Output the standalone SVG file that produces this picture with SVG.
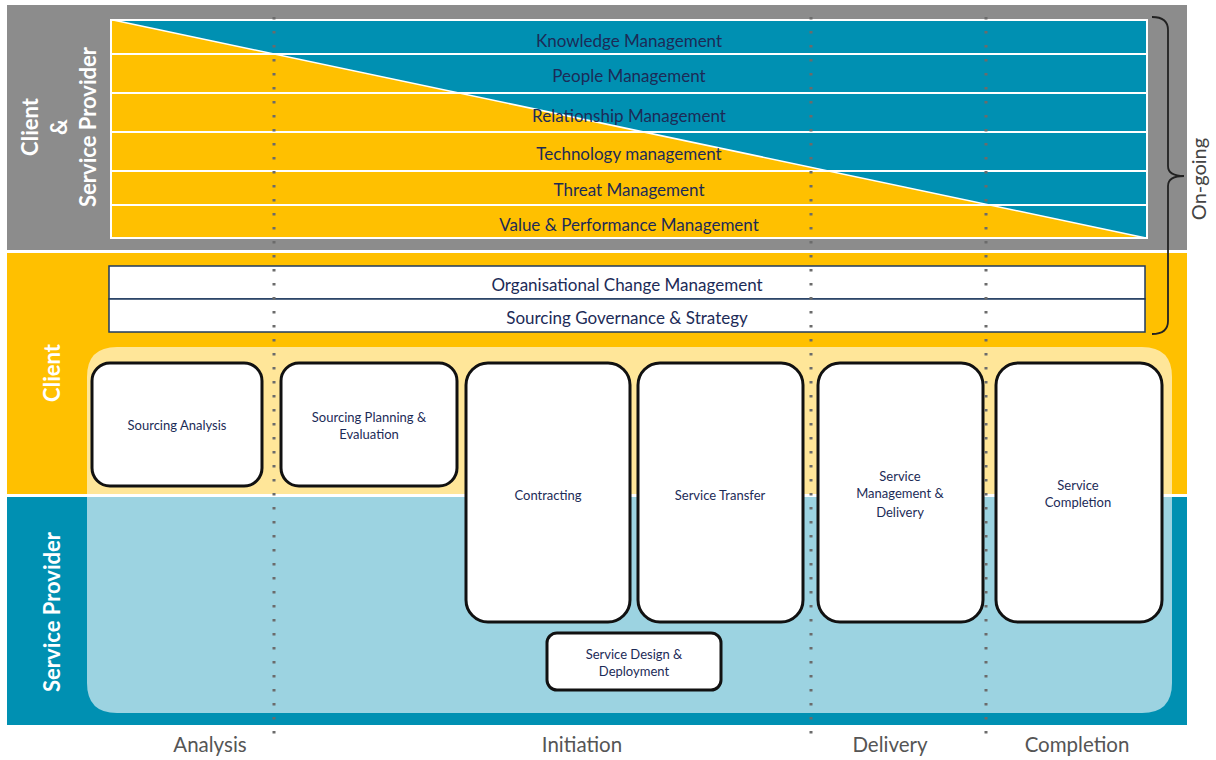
<svg xmlns="http://www.w3.org/2000/svg" width="1216" height="760" viewBox="0 0 1216 760">
<style>
.band{font-family:Lato,"Open Sans","DejaVu Sans",sans-serif;font-size:17px;fill:#1c2b57;text-anchor:middle}
.box{fill:#fff;stroke:#111;stroke-width:3}
.bt{font-family:Lato,"Open Sans","DejaVu Sans",sans-serif;font-size:13px;fill:#1c2b57;text-anchor:middle}
.side{font-family:Lato,"Open Sans","DejaVu Sans",sans-serif;font-size:22px;fill:#fff;text-anchor:middle;font-weight:bold}
.phase{font-family:Lato,"Open Sans","DejaVu Sans",sans-serif;font-size:20.5px;fill:#555;text-anchor:middle}
.dots{stroke:#6b6b6b;stroke-width:3;stroke-dasharray:2.5 11.5;fill:none}
.stripe{stroke:#fff;stroke-width:2;fill:none}
</style>
<rect width="1216" height="760" fill="#fff"/>
<g id="background">
<rect x="7" y="5" width="1180" height="245" fill="#8c8c8c"/>
<rect x="7" y="253" width="1180" height="241" fill="#ffc000"/>
<rect x="7" y="497" width="1180" height="228" fill="#0090b2"/>
<path d="M87,494 L87,377 Q87,347 117,347 L1142,347 Q1172,347 1172,377 L1172,494 Z" fill="#ffe699"/>
<path d="M87,497 L1172,497 L1172,683 Q1172,713 1142,713 L117,713 Q87,713 87,683 Z" fill="#9cd3e1"/>
</g>
<g id="ongoing-stripes">
<rect x="111" y="20" width="1036" height="218" fill="#0090b2"/>
<polygon points="113,20 1146,238 111,238 111,20" fill="#ffc000"/>
<line x1="113" y1="20" x2="1146" y2="238" stroke="#fff" stroke-width="1.5"/>
<rect class="stripe" x="111" y="20" width="1036" height="34"/>
<rect class="stripe" x="111" y="54" width="1036" height="39"/>
<rect class="stripe" x="111" y="93" width="1036" height="39"/>
<rect class="stripe" x="111" y="132" width="1036" height="39"/>
<rect class="stripe" x="111" y="171" width="1036" height="34"/>
<rect class="stripe" x="111" y="205" width="1036" height="33"/>
<text class="band" x="629" y="47">Knowledge Management</text>
<text class="band" x="629" y="82">People Management</text>
<text class="band" x="629" y="122">Relationship Management</text>
<text class="band" x="629" y="160">Technology management</text>
<text class="band" x="629" y="196">Threat Management</text>
<text class="band" x="629" y="231">Value &amp; Performance Management</text>
</g>
<g id="client-bars">
<rect x="109" y="266" width="1036" height="33" fill="#fff" stroke="#1f3a5f" stroke-width="1.5"/>
<rect x="109" y="299" width="1036" height="33" fill="#fff" stroke="#1f3a5f" stroke-width="1.5"/>
<text class="band" x="627" y="291">Organisational Change Management</text>
<text class="band" x="627" y="324">Sourcing Governance &amp; Strategy</text>
</g>
<g id="side-labels">
<text class="side" transform="translate(38,127) rotate(-90)">Client</text>
<text class="side" transform="translate(67,127) rotate(-90)">&amp;</text>
<text class="side" transform="translate(96,127) rotate(-90)">Service Provider</text>
<text class="side" transform="translate(60,373) rotate(-90)">Client</text>
<text class="side" transform="translate(60,612) rotate(-90)">Service Provider</text>
</g>
<g id="brace">
<path d="M1152,17 Q1168,17 1168,30 L1168,166 Q1168,176 1184,176 Q1168,176 1168,186 L1168,321 Q1168,334 1152,334" fill="none" stroke="#222" stroke-width="1.8"/>
<text transform="translate(1206,179) rotate(-90)" font-family="Lato,'Open Sans',sans-serif" font-size="20" fill="#444" text-anchor="middle">On-going</text>
</g>
<g id="n-sourcing-analysis"><rect class="box" x="92" y="363" width="170" height="123" rx="18"/><text class="bt" x="177" y="430">Sourcing Analysis</text></g>
<g id="n-sourcing-planning"><rect class="box" x="281" y="363" width="176" height="123" rx="18"/><text class="bt" x="369" y="422">Sourcing Planning &amp;</text><text class="bt" x="369" y="439">Evaluation</text></g>
<g id="n-contracting"><rect class="box" x="466" y="363" width="164" height="259" rx="22"/><text class="bt" x="548" y="500">Contracting</text></g>
<g id="n-service-transfer"><rect class="box" x="638" y="363" width="165" height="259" rx="22"/><text class="bt" x="720" y="500">Service Transfer</text></g>
<g id="n-service-management"><rect class="box" x="818" y="363" width="165" height="259" rx="22"/><text class="bt" x="900" y="481">Service</text><text class="bt" x="900" y="498">Management &amp;</text><text class="bt" x="900" y="517">Delivery</text></g>
<g id="n-service-completion"><rect class="box" x="996" y="363" width="166" height="259" rx="22"/><text class="bt" x="1078" y="490">Service</text><text class="bt" x="1078" y="507">Completion</text></g>
<g id="n-service-design"><rect class="box" x="547" y="633" width="174" height="57" rx="10"/><text class="bt" x="634" y="659">Service Design &amp;</text><text class="bt" x="634" y="676">Deployment</text></g>
<g id="connectors">
<line class="dots" x1="274" y1="17" x2="274" y2="736"/>
<line class="dots" x1="811" y1="17" x2="811" y2="736"/>
<line class="dots" x1="986" y1="17" x2="986" y2="736"/>
</g>
<g id="phases">
<text class="phase" x="210" y="752">Analysis</text>
<text class="phase" x="582" y="752">Initiation</text>
<text class="phase" x="890" y="752">Delivery</text>
<text class="phase" x="1077" y="752">Completion</text>
</g>
</svg>
